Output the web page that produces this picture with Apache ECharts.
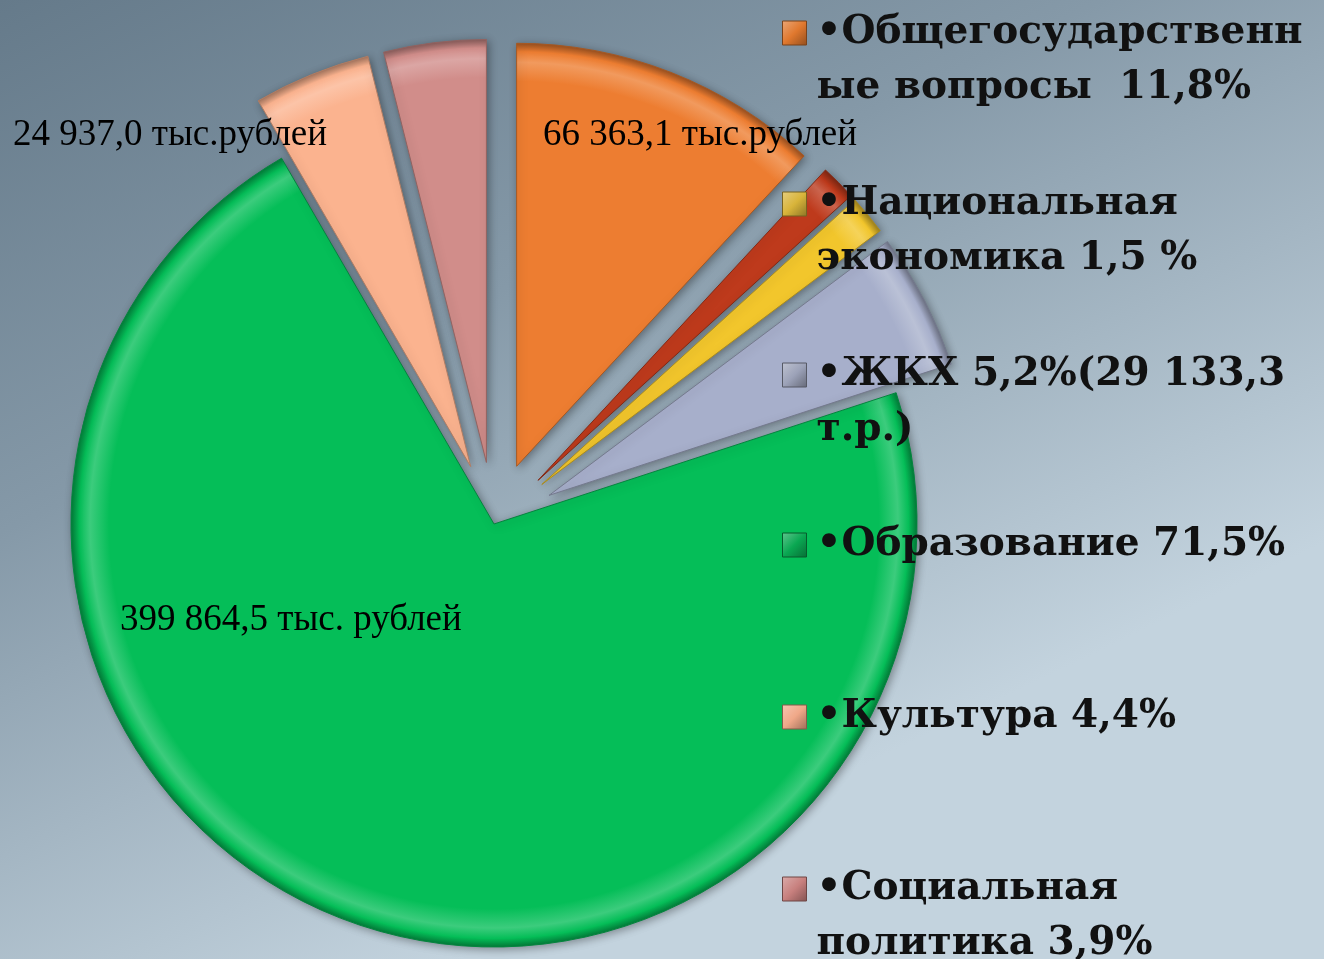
<!DOCTYPE html>
<html>
<head>
<meta charset="utf-8">
<script src="https://cdn.jsdelivr.net/npm/echarts@6/dist/echarts.min.js"></script>
<style>
  html, body { margin: 0; padding: 0; width: 1324px; height: 959px; overflow: hidden; }
  #chart { width: 1324px; height: 959px; }
</style>
</head>
<body>
<div id="chart"></div>
<script>
// ---- data ----
const categories = ['Общегосударственные вопросы', 'Национальная безопасность', 'Национальная экономика', 'ЖКХ', 'Образование', 'Культура', 'Социальная политика'];
const values = [66363.1, 7600, 8400, 29133.3, 399864.5, 24937.0, 21800];
const sliceLabels = ['66 363,1 тыс.рублей', '', '', '', '399 864,5 тыс. рублей', '24 937,0 тыс.рублей', ''];
const legendNames = ['Общегосударственные вопросы', 'Национальная экономика', 'ЖКХ', 'Образование', 'Культура', 'Социальная политика'];
const legendTexts = ['•Общегосударственн\nые вопросы  11,8%', '•Национальная\nэкономика 1,5 %', '•ЖКХ 5,2%(29 133,3\nт.р.)', '•Образование 71,5%', '•Культура 4,4%', '•Социальная\nполитика 3,9%'];

// ---- styles ----
const colors = ['#ED7D31', '#BE3A1C', '#F2C62C', '#A7AFCB', '#05BE58', '#FBB38F', '#D18D8A'];
const iconColors = ['#E0782E', '#D8B43A', '#9CA2B8', '#0AA852', '#F0A888', '#C8807E'];
const explodedIdx = [0, 1, 2, 3, 5, 6];
const labelPos = { 0: [543, 135], 4: [120, 620], 5: [13, 135] };
const legendCenters = [33, 204, 375, 545, 717, 889];
const LH = 55;
const PIE_C = [494, 524];
const PIE_R = 423;

const chart = echarts.init(document.getElementById('chart'));

function shade(hex, f) {
  const n = parseInt(hex.slice(1), 16);
  let r = (n >> 16) & 255, g = (n >> 8) & 255, b = n & 255;
  const m = v => Math.max(0, Math.min(255, Math.round(f > 0 ? v + (255 - v) * f : v * (1 + f))));
  return 'rgb(' + m(r) + ',' + m(g) + ',' + m(b) + ')';
}

function bevel(c) {
  return {
    type: 'radial', x: PIE_C[0], y: PIE_C[1], r: PIE_R, global: true,
    colorStops: [
      { offset: 0, color: c },
      { offset: 0.91, color: c },
      { offset: 0.955, color: shade(c, 0.22) },
      { offset: 0.98, color: c },
      { offset: 1, color: shade(c, -0.35) }
    ]
  };
}

const pieData = categories.map((name, i) => ({
  name: name,
  value: values[i],
  selected: explodedIdx.indexOf(i) >= 0,
  itemStyle: {
    color: bevel(colors[i]),
    borderColor: shade(colors[i], -0.3),
    borderWidth: 1
  }
}));

const labelData = categories.map((name, i) => ({
  name: name,
  value: values[i],
  itemStyle: { color: 'rgba(0,0,0,0)', borderWidth: 0 },
  label: { show: sliceLabels[i] !== '', formatter: sliceLabels[i] }
}));

const legends = legendNames.map((name, i) => {
  const lines = legendTexts[i].split('\n');
  // an empty leading line for two-line entries keeps the icon level with the first line
  const txt = (lines.length > 1 ? '\n' : '') + legendTexts[i];
  return {
    data: [{
      name: name,
      itemStyle: {
        color: {
          type: 'linear', x: 0, y: 0, x2: 1, y2: 1,
          colorStops: [
            { offset: 0, color: shade(iconColors[i], 0.35) },
            { offset: 0.5, color: iconColors[i] },
            { offset: 1, color: shade(iconColors[i], -0.35) }
          ]
        },
        borderColor: shade(iconColors[i], -0.45),
        borderWidth: 1
      }
    }],
    left: 782,
    top: legendCenters[i] - (2 * lines.length - 1) * LH / 2,
    padding: 0,
    orient: 'vertical',
    icon: 'path://M0,0L10,0L10,10L0,10Z',
    itemWidth: 34,
    itemHeight: 24,
    selectedMode: false,
    formatter: () => txt,
    textStyle: {
      fontFamily: 'DejaVu Serif',
      fontWeight: 'bold',
      fontSize: 39,
      lineHeight: LH,
      color: '#111111'
    }
  };
});

chart.setOption({
  animation: false,
  backgroundColor: {
    type: 'linear', x: 0, y: 0, x2: 0.35, y2: 1,
    colorStops: [
      { offset: 0, color: '#657a8a' },
      { offset: 0.45, color: '#8599a8' },
      { offset: 1, color: '#c3d3de' }
    ]
  },
  legend: legends,
  series: [{
    type: 'pie',
    center: PIE_C,
    radius: [0, PIE_R],
    startAngle: 90,
    clockwise: true,
    selectedMode: 'multiple',
    selectedOffset: 62,
    avoidLabelOverlap: false,
    emphasis: { disabled: true },
    itemStyle: {
      shadowBlur: 8,
      shadowColor: 'rgba(0,0,0,0.35)',
      shadowOffsetX: 2,
      shadowOffsetY: 2
    },
    label: { show: false },
    labelLine: { show: false },
    data: pieData
  }, {
    type: 'pie',
    center: PIE_C,
    radius: [0, PIE_R],
    startAngle: 90,
    clockwise: true,
    silent: true,
    z: 5,
    avoidLabelOverlap: false,
    emphasis: { disabled: true },
    label: {
      position: 'inside',
      color: '#000',
      opacity: 1,
      fontFamily: 'Liberation Serif',
      fontSize: 37
    },
    labelLine: { show: false },
    labelLayout: function (p) {
      const pos = labelPos[p.dataIndex];
      if (!pos) return {};
      return { x: pos[0], y: pos[1], align: 'left', verticalAlign: 'middle' };
    },
    data: labelData
  }]
});
</script>
</body>
</html>
